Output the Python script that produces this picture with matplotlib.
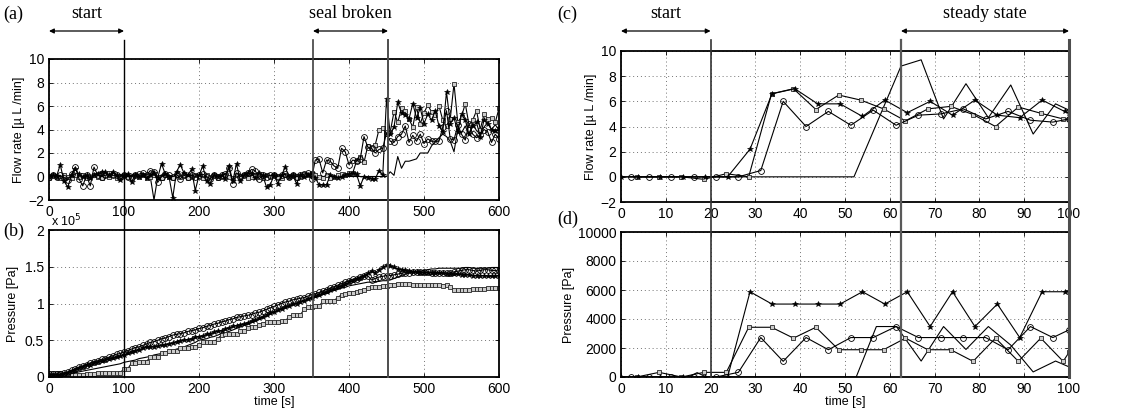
import matplotlib
matplotlib.use("Agg")
import matplotlib.pyplot as plt
import matplotlib.transforms as mtransforms
from matplotlib.lines import Line2D
from matplotlib.patches import FancyArrowPatch
import numpy as np

plt.rcParams['font.family'] = ['Liberation Sans', 'DejaVu Sans']
SERIF = ['Liberation Serif', 'DejaVu Serif']

# ---------------- data: panels (a) and (b), sampled every 5 s ----------------
t_ab = np.arange(0, 601, 5)

flow_a_star = [0, 0.1, 0, 1.0, -0.4, -0.9, 0.1, 0.6, 0.2, 0, 0.1, -0.1, 0.1, 0.2, 0.4, 0.4, 0.1, 0.4, 0.1, -0.3, 0.1,
               0.2, -0.5, 0.1, 0, 0.1, -0.1, 0.1, 0.3, -0.1, 1.1, 0.2, 0, -1.8, 0.4, 1.0, 0.3, 0.1, 0.6, -1.2, 0.1,
               0.9, -0.4, -0.6, 0.1, 0, 0.1, -0.2, 0.9, -0.4, 1.1, -0.4, 0.1, 0.3, 0.2, -0.1, 0.3, 0.1, -0.9, -0.7, 0.1,
               -0.6, 0.1, 0.8, 0, 0.1, -0.6, 0.1, 0, 0.1, 0.3, -0.1, -0.7, -0.7, -0.7, 0.1, 0, -0.1, 0, 0.1, 0.2,
               0.3, 0.2, -0.8, 0, -0.1, -0.2, -0.2, 0.5, 0.1, 6.6, 3.6, 4.2, 6.3, 5.4, 5.2, 4.9, 6.2, 5.0, 5.8, 4.5,
               5.3, 4.8, 5.6, 4.3, 3.8, 7.2, 4.5, 5.0, 3.8, 5.3, 4.8, 3.6, 4.3, 4.6, 3.4, 4.8, 4.5, 4.0, 3.9, 4.1]
flow_a_circle = [0, 0.1, 0, 0.1, -0.1, -0.3, 0.2, 0.8, -0.2, -0.8, 0.1, -0.8, 0.8, 0.1, 0, 0.1, 0.2, 0.1, 0.1, 0, 0.1,
                 0, 0, 0.1, 0.2, 0.3, 0.1, 0.5, 0.4, -0.5, 0, 0.2, 0.1, 0, 0.2, -0.2, 0.1, 0, 0.1, 0, 0.1,
                 0.2, 0, -0.2, 0.1, 0, 0.1, 0.2, 0.7, -0.6, 0.3, 0, 0.1, 0.3, 0.6, 0.5, -0.2, 0.1, 0, 0.1, 0.1,
                 0, 0.1, 0.2, 0, 0.1, 0, 0.1, 0.2, 0.3, -0.2, 1.4, 1.5, 0.3, 1.4, 1.3, 0.9, 0.7, 2.4, 2.1, 1.0,
                 1.4, 1.3, 1.5, 3.4, 2.5, 2.4, 2.0, 2.3, 2.4, 3.7, 3.0, 2.9, 3.4, 3.6, 4.3, 2.9, 3.5, 3.0, 3.6, 2.8,
                 3.2, 3.0, 3.0, 3.0, 4.2, 5.6, 3.2, 3.1, 4.4, 3.6, 3.1, 4.5, 3.6, 3.3, 3.5, 4.0, 3.8, 2.9, 3.6, 3.2]
flow_a_square = [-0.1, 0.1, 0, -0.1, 0.1, 0, -0.1, 0.1, 0, 0.1, -0.1, 0, 0.1, 0, -0.1, 0.1, 0, 0.1, -0.1, 0, 0.1,
                 0, -0.1, 0.1, 0, 0.1, -0.1, 0, 0.1, 0, -0.1, 0.1, 0, -0.1, 0.1, 0, 0.1, -0.1, 0, 0.1, 0,
                 -0.1, 0.1, 0, 0.1, -0.1, 0, 0.1, 0, -0.1, 0.1, 0, 0.1, -0.1, 0, 0.1, 0, -0.1, 0.1, 0, 0.1,
                 0, -0.1, 0.1, 0, 0.1, -0.1, 0, 0.2, 0.1, 0.3, 0.1, 0, -0.1, 0.1, -0.1, 0, 0.1, 0.2, 0.1, 0.3,
                 0.3, 1.3, 1.7, 1.2, 2.6, 2.4, 2.7, 4.0, 4.1, 3.6, 3.8, 5.5, 4.6, 5.8, 5.6, 4.9, 4.2, 5.9, 4.5, 5.4,
                 6.1, 5.5, 5.2, 6.0, 4.8, 4.3, 4.9, 7.9, 4.6, 5.1, 6.2, 4.4, 4.8, 5.6, 4.0, 5.3, 4.9, 5.0, 4.6, 5.8]
flow_a_plain = [0, 0, 0.1, 0, 0, -0.1, 0, 0.1, 0, 0, 0.1, 0, -0.1, 0, 0.1, 0, 0, 0, 0.1, 0, 0,
                0, 0.1, 0, 0, 0, -0.1, 0, -2.0, 0, 0.1, 0, 0, 0, 0, 0.1, 0, 0, 0, 0, 0,
                0, 0, 0, 0.1, 0, 0, 0, 0, -0.1, 0, 0, 0, 0.1, 0, 0, 0, 0, 0, 0, 0,
                0, 0, 0, 0, 0, 0, 0, 0, 0, 0, 0, 0, 0, 0, 0, 0, 0, 0, 0, 0,
                0, 0, 0, 0, 0, 0, 0, 0, 0, 0, 0.4, 0.1, 1.7, 0.7, 1.3, 1.3, 1.4, 1.5, 2.0, 2.0,
                2.0, 2.6, 3.0, 3.3, 3.6, 3.4, 3.0, 2.1, 4.0, 3.7, 4.3, 3.5, 4.5, 3.9, 3.6, 4.2, 4.6, 4.0, 4.4, 4.0]

# pressure in units of 1e5 Pa
pres_b_circle = [0.04, 0.04, 0.04, 0.04, 0.05, 0.07, 0.09, 0.11, 0.13, 0.15, 0.17, 0.19, 0.21, 0.22, 0.24, 0.25, 0.27, 0.29, 0.31, 0.32, 0.34,
                 0.36, 0.38, 0.40, 0.41, 0.43, 0.45, 0.47, 0.48, 0.50, 0.52, 0.53, 0.55, 0.57, 0.58, 0.59, 0.60, 0.62, 0.63, 0.64, 0.66,
                 0.67, 0.69, 0.70, 0.72, 0.73, 0.75, 0.76, 0.78, 0.79, 0.81, 0.82, 0.83, 0.84, 0.85, 0.87, 0.88, 0.90, 0.92, 0.94, 0.96,
                 0.98, 1.00, 1.02, 1.03, 1.05, 1.06, 1.07, 1.08, 1.10, 1.12, 1.13, 1.15, 1.17, 1.19, 1.21, 1.23, 1.25, 1.27, 1.29, 1.31,
                 1.33, 1.34, 1.36, 1.37, 1.38, 1.32, 1.34, 1.36, 1.37, 1.38, 1.38, 1.39, 1.40, 1.41, 1.42, 1.42, 1.43, 1.43, 1.43, 1.43,
                 1.43, 1.42, 1.42, 1.42, 1.41, 1.41, 1.42, 1.43, 1.44, 1.45, 1.46, 1.46, 1.45, 1.44, 1.45, 1.46, 1.46, 1.45, 1.45, 1.44]
pres_b_star = [0.03, 0.03, 0.03, 0.03, 0.04, 0.06, 0.08, 0.10, 0.12, 0.14, 0.16, 0.17, 0.19, 0.20, 0.22, 0.23, 0.25, 0.26, 0.27, 0.28, 0.30,
               0.32, 0.34, 0.36, 0.37, 0.39, 0.41, 0.41, 0.41, 0.42, 0.43, 0.44, 0.45, 0.46, 0.48, 0.49, 0.50, 0.51, 0.52, 0.54, 0.55,
               0.56, 0.58, 0.59, 0.61, 0.62, 0.63, 0.65, 0.67, 0.69, 0.70, 0.71, 0.72, 0.74, 0.76, 0.78, 0.80, 0.82, 0.85, 0.87, 0.89,
               0.91, 0.93, 0.95, 0.97, 0.99, 1.00, 1.02, 1.04, 1.06, 1.08, 1.10, 1.12, 1.14, 1.16, 1.18, 1.20, 1.22, 1.24, 1.26, 1.29,
               1.31, 1.33, 1.35, 1.38, 1.41, 1.44, 1.42, 1.46, 1.49, 1.52, 1.51, 1.49, 1.47, 1.46, 1.45, 1.44, 1.43, 1.43, 1.42, 1.42,
               1.42, 1.42, 1.41, 1.41, 1.41, 1.40, 1.40, 1.40, 1.40, 1.39, 1.39, 1.39, 1.38, 1.38, 1.38, 1.38, 1.37, 1.37, 1.37, 1.38]
pres_b_square = [0.05, 0.05, 0.05, 0.05, 0.04, 0.04, 0.03, 0.03, 0.03, 0.03, 0.04, 0.04, 0.04, 0.05, 0.05, 0.05, 0.05, 0.06, 0.06, 0.06, 0.11,
                 0.11, 0.19, 0.19, 0.20, 0.20, 0.21, 0.27, 0.27, 0.27, 0.32, 0.32, 0.35, 0.36, 0.36, 0.40, 0.40, 0.40, 0.41, 0.41, 0.44,
                 0.47, 0.47, 0.48, 0.48, 0.52, 0.57, 0.58, 0.58, 0.58, 0.59, 0.62, 0.62, 0.67, 0.68, 0.68, 0.71, 0.72, 0.75, 0.75, 0.75,
                 0.75, 0.76, 0.76, 0.82, 0.84, 0.84, 0.84, 0.92, 0.95, 0.95, 0.96, 0.96, 1.03, 1.03, 1.04, 1.04, 1.08, 1.12, 1.13, 1.14,
                 1.14, 1.16, 1.17, 1.19, 1.21, 1.22, 1.22, 1.23, 1.24, 1.24, 1.25, 1.25, 1.26, 1.26, 1.26, 1.26, 1.25, 1.25, 1.25, 1.25,
                 1.25, 1.25, 1.25, 1.25, 1.24, 1.25, 1.22, 1.19, 1.19, 1.19, 1.19, 1.19, 1.20, 1.20, 1.20, 1.20, 1.21, 1.21, 1.21, 1.21]
pres_b_plain = [0.03, 0.03, 0.03, 0.03, 0.03, 0.04, 0.05, 0.06, 0.07, 0.08, 0.09, 0.10, 0.11, 0.12, 0.13, 0.14, 0.15, 0.16, 0.17, 0.18, 0.20,
                0.21, 0.22, 0.23, 0.25, 0.26, 0.27, 0.28, 0.30, 0.31, 0.32, 0.33, 0.35, 0.36, 0.38, 0.39, 0.41, 0.43, 0.45, 0.47, 0.50,
                0.51, 0.52, 0.54, 0.55, 0.57, 0.59, 0.60, 0.62, 0.64, 0.66, 0.68, 0.70, 0.72, 0.74, 0.76, 0.78, 0.81, 0.83, 0.86, 0.88,
                0.90, 0.92, 0.94, 0.96, 0.98, 1.00, 1.02, 1.04, 1.05, 1.07, 1.09, 1.10, 1.12, 1.14, 1.16, 1.18, 1.19, 1.21, 1.22, 1.24,
                1.25, 1.26, 1.27, 1.28, 1.29, 1.29, 1.30, 1.30, 1.31, 1.31, 1.32, 1.34, 1.36, 1.38, 1.40, 1.41, 1.42, 1.43, 1.44, 1.45,
                1.46, 1.47, 1.47, 1.48, 1.48, 1.48, 1.48, 1.48, 1.48, 1.48, 1.49, 1.49, 1.48, 1.48, 1.48, 1.48, 1.48, 1.49, 1.49, 1.49]

# ---------------- data: panels (c) and (d) ----------------
t_cd_circle = [2.2, 6.3, 11.2, 16.2, 21.2, 26.2, 31.2, 36.2, 41.3, 46.3, 51.3, 56.3, 61.4, 66.4, 71.4, 76.4, 81.4, 86.4, 91.4, 96.4, 100]
t_cd_square = [3.5, 8.5, 13.5, 18.5, 23.5, 28.5, 33.6, 38.5, 43.5, 48.6, 53.5, 58.6, 63.5, 68.5, 73.6, 78.6, 83.6, 88.7, 93.7, 98.7, 100]
t_cd_star = [0, 3.8, 8.8, 13.8, 18.8, 23.8, 28.8, 33.7, 38.8, 43.9, 48.9, 53.9, 58.9, 63.9, 69, 74, 79, 84, 89, 94, 99, 100]

flow_c_circle = [0, 0, 0, 0, 0, 0, 0.5, 6.0, 4.0, 5.2, 4.1, 5.3, 4.1, 4.9, 5.0, 5.4, 4.6, 5.2, 4.5, 4.35, 4.6]
flow_c_square = [0, 0, 0, -0.2, 0.25, 0, 6.6, 7.0, 5.35, 6.5, 6.1, 5.4, 4.45, 5.4, 5.6, 4.95, 4.0, 5.55, 5.05, 4.6, 4.6]
flow_c_star = [0, 0, 0, 0, 0, 0, 2.2, 6.6, 7.0, 5.8, 5.8, 4.8, 6.1, 5.1, 6.0, 4.9, 6.1, 4.9, 4.7, 6.1, 5.2, 5.1]
t_c_plain = [0, 52, 62.5, 67, 72, 77, 82, 87, 92, 97, 100]
flow_c_plain = [0, 0, 8.8, 9.3, 4.6, 7.4, 4.7, 7.3, 3.4, 5.8, 5.3]

pres_d_circle = [0, 0, 0, 0, 0, 320, 2720, 1080, 2720, 1880, 2720, 2720, 3480, 2720, 2720, 2720, 2720, 1880, 3480, 2720, 3250]
pres_d_square = [0, 320, 0, 320, 320, 3430, 3430, 2680, 3430, 1880, 1880, 1880, 2680, 1880, 1880, 1080, 2680, 1080, 2680, 1080, 1700]
pres_d_star = [0, 0, 0, 0, 0, 0, 5880, 5030, 5030, 5030, 5030, 5880, 5030, 5880, 3480, 5880, 3480, 5030, 2720, 5880, 5880, 5880]
t_d_plain = [0, 15, 17, 19, 52.5, 57, 61.5, 67, 72, 77, 82, 87, 92, 97, 100]
pres_d_plain = [0, 0, 300, 0, 0, 3480, 3480, 1100, 3480, 1900, 3480, 2200, 350, 1100, 700]

# ---------------- figure ----------------
W, H = 1121, 412
fig = plt.figure(figsize=(W / 100, H / 100), dpi=100)


def box(l, t, r, b):
    return [l / W, 1 - b / H, (r - l) / W, (b - t) / H]


axa = fig.add_axes(box(49, 59, 499, 200))
axb = fig.add_axes(box(49, 230, 499, 377))
axc = fig.add_axes(box(621, 51, 1069, 202))
axd = fig.add_axes(box(621, 232, 1069, 377))

LW = 0.8
styles = {
    'circle': dict(color='k', lw=LW, marker='o', ms=4.2, mfc='none', mec='k', mew=0.6),
    'star': dict(color='k', lw=LW, marker='*', ms=4.0, mfc='k', mec='k', mew=0.4),
    'square': dict(color='k', lw=LW, marker='s', ms=3.5, mfc='0.8', mec='0.15', mew=0.6),
    'plain': dict(color='k', lw=LW),
}

axa.plot(t_ab, flow_a_plain, **styles['plain'])
axa.plot(t_ab, flow_a_square, **styles['square'])
axa.plot(t_ab, flow_a_circle, **styles['circle'])
axa.plot(t_ab, flow_a_star, **styles['star'])

axb.plot(t_ab, pres_b_plain, **styles['plain'])
axb.plot(t_ab, pres_b_square, **styles['square'])
axb.plot(t_ab, pres_b_circle, **styles['circle'])
axb.plot(t_ab, pres_b_star, **styles['star'])

axc.plot(t_c_plain, flow_c_plain, **styles['plain'])
axc.plot(t_cd_square, flow_c_square, **styles['square'])
axc.plot(t_cd_circle, flow_c_circle, **styles['circle'])
axc.plot(t_cd_star, flow_c_star, **styles['star'])

axd.plot(t_d_plain, pres_d_plain, **styles['plain'])
axd.plot(t_cd_square, pres_d_square, **styles['square'])
axd.plot(t_cd_circle, pres_d_circle, **styles['circle'])
axd.plot(t_cd_star, pres_d_star, **styles['star'])

for ax in (axa, axb, axc, axd):
    ax.grid(True, color='0.45', lw=0.7, linestyle=(0, (1, 3)))
    ax.tick_params(direction='in', top=True, right=True, length=3, labelsize=10, width=0.6)
    for s in ax.spines.values():
        s.set_linewidth(1.3)

axa.set_xlim(0, 600)
axb.set_xlim(0, 600)
axa.set_ylim(-2, 10)
axa.set_yticks(range(-2, 11, 2))
axb.set_ylim(0, 2)
axb.set_yticks([0, 0.5, 1, 1.5, 2])
axb.set_yticklabels(['0', '0.5', '1', '1.5', '2'])
for ax in (axa, axb):
    ax.set_xticks(range(0, 601, 100))
axb.text(0.004, 1.005, r'x 10$^5$', transform=axb.transAxes, fontsize=9, va='bottom', ha='left')

axc.set_xlim(0, 100)
axd.set_xlim(0, 100)
axc.set_ylim(-2, 10)
axc.set_yticks(range(-2, 11, 2))
axd.set_ylim(0, 10000)
axd.set_yticks(range(0, 10001, 2000))
for ax in (axc, axd):
    ax.set_xticks(range(0, 101, 10))

axa.set_ylabel('Flow rate [\u00b5 L /min]', fontsize=9, labelpad=2)
axc.set_ylabel('Flow rate [\u00b5 L /min]', fontsize=9, labelpad=2)
axb.set_ylabel('Pressure [Pa]', fontsize=9, labelpad=4)
axd.set_ylabel('Pressure [Pa]', fontsize=9, labelpad=2)
axb.set_xlabel('time [s]', fontsize=9, labelpad=0)
axd.set_xlabel('time [s]', fontsize=9, labelpad=0)

# vertical marker lines spanning both panels and the arrows
y_top, y_bot = 1 - 40 / H, 1 - 377 / H
tra = mtransforms.blended_transform_factory(axa.transData, fig.transFigure)
trc = mtransforms.blended_transform_factory(axc.transData, fig.transFigure)
for x, c, w in [(100, 'k', 1.0), (352, '0.25', 1.2), (452, '0.3', 1.4)]:
    fig.add_artist(Line2D([x, x], [y_top, y_bot], transform=tra, color=c, lw=w))
for x, c, w in [(20, '0.2', 1.2), (62.5, '0.35', 1.6), (100, '0.3', 2.2)]:
    fig.add_artist(Line2D([x, x], [y_top, y_bot], transform=trc, color=c, lw=w))

# arrows and annotations
y_arr = 1 - 31 / H
y_txt = 1 - 14 / H
arrow = dict(arrowstyle='<|-|>', color='k', lw=0.9, mutation_scale=7, shrinkA=0, shrinkB=0)
for tr, x0, x1, label in [(tra, 0, 100, 'start'), (tra, 352, 452, 'seal broken'),
                          (trc, 0, 20, 'start'), (trc, 62.5, 100, 'steady state')]:
    fig.add_artist(FancyArrowPatch((x0, y_arr), (x1, y_arr), transform=tr, **arrow))
    fig.text((x0 + x1) / 2, y_txt, label, transform=tr, ha='center', va='center',
             family=SERIF, fontsize=13)

for x, y, s in [(3, 14, '(a)'), (3, 231, '(b)'), (557, 14, '(c)'), (557, 219, '(d)')]:
    fig.text(x / W, 1 - y / H, s, family=SERIF, fontsize=13, ha='left', va='center')

fig.savefig('out.png', dpi=100)
